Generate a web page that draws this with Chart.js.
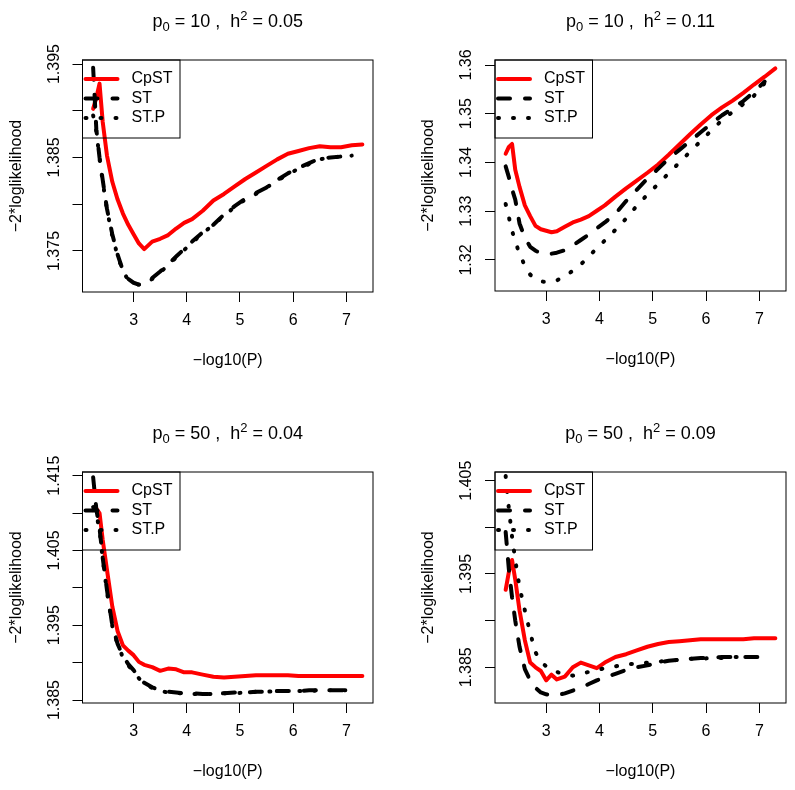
<!DOCTYPE html>
<html>
<head>
<meta charset="utf-8">
<script src="https://cdn.jsdelivr.net/npm/chart.js@4.4.0/dist/chart.umd.min.js"></script>
<style>
  html, body { margin: 0; padding: 0; background: #fff; }
  #wrap { position: relative; width: 795px; height: 790px; }
  #wrap canvas { position: absolute; }
</style>
</head>
<body>
<div id="wrap">
  <canvas id="c1" width="397" height="395" style="left:0px;top:0px"></canvas>
  <canvas id="c2" width="397" height="395" style="left:398px;top:0px"></canvas>
  <canvas id="c3" width="397" height="395" style="left:0px;top:395px"></canvas>
  <canvas id="c4" width="397" height="395" style="left:398px;top:395px"></canvas>
</div>
<script>
"use strict";
// -log10(P) grid shared by all panels
const logP = [2.24, 2.30, 2.36, 2.42, 2.5, 2.6, 2.7, 2.8, 2.9, 3.0, 3.1, 3.2, 3.35, 3.5, 3.65, 3.8, 3.95,
              4.1, 4.3, 4.5, 4.7, 4.9, 5.1, 5.3, 5.5, 5.7, 5.9, 6.1, 6.3, 6.5, 6.7, 6.9, 7.1, 7.3];

// p0 = 10, h2 = 0.05
const cpst1 = [1.3902, 1.3914, 1.3929, 1.3888, 1.3852, 1.3824, 1.3805, 1.3790, 1.3778, 1.3768, 1.3758, 1.3752, 1.3760, 1.3763, 1.3767, 1.3774, 1.3780,
               1.3784, 1.3793, 1.3804, 1.3811, 1.3819, 1.3827, 1.3834, 1.3841, 1.3848, 1.3854, 1.3857, 1.3860, 1.3862, 1.3861, 1.3861, 1.3863, 1.3864];
const st1 = [1.3946, 1.3880, 1.3850, 1.3826, 1.3795, 1.3768, 1.3746, 1.3729, 1.3720, 1.3716, 1.3714, 1.3715, 1.3721, 1.3728, 1.3736, 1.3744, 1.3752,
             1.3760, 1.3770, 1.3778, 1.3789, 1.3798, 1.3806, 1.3812, 1.3818, 1.3826, 1.3833, 1.3839, 1.3844, 1.3849, 1.3850, 1.3851, 1.3852, null];
const stp1 = [1.3895, 1.3878, 1.3849, 1.3824, 1.3794, 1.3766, 1.3745, 1.3728, 1.3719, 1.3715, 1.3714, 1.3715, 1.3720, 1.3727, 1.3735, 1.3743, 1.3751,
              1.3759, 1.3769, 1.3778, 1.3788, 1.3797, 1.3805, 1.3811, 1.3818, 1.3825, 1.3832, 1.3838, 1.3843, 1.3848, 1.3850, 1.3851, 1.3852, null];

// p0 = 10, h2 = 0.11
const cpst2 = [1.3418, 1.3432, 1.3438, 1.3385, 1.3350, 1.3312, 1.3290, 1.3270, 1.3263, 1.3260, 1.3257, 1.3259, 1.3268, 1.3277, 1.3283, 1.3290, 1.3301,
               1.3312, 1.3330, 1.3347, 1.3363, 1.3379, 1.3396, 1.3416, 1.3437, 1.3458, 1.3478, 1.3497, 1.3513, 1.3527, 1.3543, 1.3560, 1.3576, 1.3593];
const st2 = [1.3392, 1.3370, 1.3345, 1.3324, 1.3275, 1.3246, 1.3227, 1.3219, 1.3214, 1.3212, 1.3213, 1.3215, 1.3220, 1.3230, 1.3241, 1.3252, 1.3265,
             1.3277, 1.3295, 1.3321, 1.3344, 1.3367, 1.3387, 1.3408, 1.3426, 1.3444, 1.3462, 1.3480, 1.3497, 1.3511, 1.3526, 1.3545, 1.3566, null];
const stp2 = [1.3315, 1.3288, 1.3260, 1.3238, 1.3213, 1.3188, 1.3170, 1.3161, 1.3156, 1.3155, 1.3156, 1.3158, 1.3167, 1.3178, 1.3191, 1.3207, 1.3224,
              1.3240, 1.3262, 1.3285, 1.3311, 1.3334, 1.3356, 1.3378, 1.3400, 1.3422, 1.3444, 1.3466, 1.3487, 1.3504, 1.3520, 1.3537, 1.3563, null];

// p0 = 50, h2 = 0.04
const cpst3 = [1.4104, 1.4106, 1.4100, 1.4064, 1.4024, 1.3975, 1.3942, 1.3923, 1.3916, 1.3910, 1.3901, 1.3897, 1.3894, 1.3889, 1.3892, 1.3891, 1.3887,
               1.3887, 1.3884, 1.3881, 1.3880, 1.3881, 1.3882, 1.3883, 1.3883, 1.3883, 1.3883, 1.3882, 1.3882, 1.3882, 1.3882, 1.3882, 1.3882, 1.3882];
const st3 = [1.4148, 1.4105, 1.4080, 1.4040, 1.3997, 1.3950, 1.3925, 1.3909, 1.3898, 1.3890, 1.3880, 1.3873, 1.3867, 1.3863, 1.3861, 1.3860, 1.3859,
             1.3859, 1.3858, 1.3858, 1.3859, 1.3860, 1.3860, 1.3861, 1.3861, 1.3862, 1.3862, 1.3862, 1.3863, 1.3863, 1.3863, 1.3863, 1.3863, null];
const stp3 = [1.4108, 1.4098, 1.4078, 1.4038, 1.3995, 1.3949, 1.3924, 1.3907, 1.3896, 1.3888, 1.3879, 1.3872, 1.3866, 1.3862, 1.3860, 1.3859, 1.3859,
              1.3858, 1.3858, 1.3858, 1.3859, 1.3859, 1.3860, 1.3861, 1.3861, 1.3862, 1.3862, 1.3862, 1.3862, 1.3863, 1.3863, 1.3863, 1.3863, null];

// p0 = 50, h2 = 0.09
const cpst4 = [1.3933, 1.3952, 1.3965, 1.3944, 1.3911, 1.3879, 1.3855, 1.3850, 1.3846, 1.3836, 1.3842, 1.3837, 1.3840, 1.3850, 1.3855, 1.3852, 1.3849,
               1.3855, 1.3861, 1.3864, 1.3868, 1.3872, 1.3875, 1.3877, 1.3878, 1.3879, 1.3880, 1.3880, 1.3880, 1.3880, 1.3880, 1.3881, 1.3881, 1.3881];
const st4 = [1.3995, 1.3955, 1.3925, 1.3900, 1.3872, 1.3848, 1.3836, 1.3828, 1.3823, 1.3821, 1.3820, 1.3820, 1.3822, 1.3825, 1.3828, 1.3832, 1.3836,
             1.3839, 1.3843, 1.3847, 1.3850, 1.3852, 1.3855, 1.3857, 1.3858, 1.3859, 1.3860, 1.3860, 1.3861, 1.3861, 1.3861, 1.3861, 1.3861, null];
const stp4 = [1.4055, 1.4020, 1.3990, 1.3965, 1.3936, 1.3911, 1.3887, 1.3866, 1.3856, 1.3851, 1.3847, 1.3845, 1.3842, 1.3841, 1.3843, 1.3845, 1.3847,
              1.3849, 1.3851, 1.3853, 1.3854, 1.3855, 1.3856, 1.3857, 1.3858, 1.3859, 1.3859, 1.3860, 1.3860, 1.3861, 1.3861, 1.3861, 1.3861, null];

const seriesNames = ["CpST", "ST", "ST.P"];
const p0Values = ["10", "10", "50", "50"];
const h2Values = ["0.05", "0.11", "0.04", "0.09"];

const xTicks = [3, 4, 5, 6, 7];
const xRange = [2.04, 7.5];
const yTicks = [
    [1.375, 1.38, 1.385, 1.39, 1.395],
    [1.32, 1.33, 1.34, 1.35, 1.36],
    [1.385, 1.39, 1.395, 1.4, 1.405, 1.41, 1.415],
    [1.385, 1.39, 1.395, 1.4, 1.405]
];
const yLabels = [
    ["1.375", "1.385", "1.395"],
    ["1.32", "1.33", "1.34", "1.35", "1.36"],
    ["1.385", "1.395", "1.405", "1.415"],
    ["1.385", "1.395", "1.405"]
];
const yRanges = [[1.37061, 1.39543], [1.31364, 1.36103], [1.3846, 1.41549], [1.38117, 1.40593]];

const cpst = [cpst1, cpst2, cpst3, cpst4];
const st = [st1, st2, st3, st4];
const stp = [stp1, stp2, stp3, stp4];

// plot box of each panel, in its own canvas
const boxes = [
    {left: 82.5, right: 373, top: 60, bottom: 292},
    {left: 97, right: 388, top: 60, bottom: 291},
    {left: 82.5, right: 373, top: 77, bottom: 308},
    {left: 97, right: 388, top: 77, bottom: 308}
];

const FONT = "'Liberation Sans', Arial, Helvetica, sans-serif";

function pairs(values) {
    return logP.map((x, k) => ({x: x, y: values[k]}));
}

function drawTitle(ctx, cx, baseline, p0, h2) {
    const big = "18px " + FONT;
    const small = "13px " + FONT;
    const parts = [
        ["p", big, 0],
        ["0", small, 4],
        [" = " + p0 + " ,  h", big, 0],
        ["2", small, -7],
        [" = " + h2, big, 0]
    ];
    let total = 0;
    parts.forEach(p => { ctx.font = p[1]; total += ctx.measureText(p[0]).width; });
    let x = cx - total / 2;
    ctx.textAlign = "left";
    ctx.textBaseline = "alphabetic";
    parts.forEach(p => {
        ctx.font = p[1];
        ctx.fillText(p[0], x, baseline + p[2]);
        x += ctx.measureText(p[0]).width;
    });
}

const rPlot = {
    id: "rPlot",
    afterDatasetsDraw(chart, args, opts) {
        const ctx = chart.ctx;
        const a = chart.chartArea;
        ctx.save();
        ctx.fillStyle = "#000";
        ctx.strokeStyle = "#000";
        ctx.lineWidth = 1;
        ctx.setLineDash([]);
        ctx.strokeRect(a.left, a.top, a.right - a.left, a.bottom - a.top);

        // y tick labels, turned like R does
        const yScale = chart.scales.y;
        ctx.font = "16px " + FONT;
        ctx.textAlign = "center";
        ctx.textBaseline = "middle";
        opts.labels.forEach(lab => {
            const py = yScale.getPixelForValue(parseFloat(lab));
            ctx.save();
            ctx.translate(a.left - 28, py);
            ctx.rotate(-Math.PI / 2);
            ctx.fillText(lab, 0, 0);
            ctx.restore();
        });

        // axis titles
        ctx.fillText("\u2212log10(P)", (a.left + a.right) / 2, a.bottom + 69);
        ctx.save();
        ctx.translate(a.left - 66, (a.top + a.bottom) / 2);
        ctx.rotate(-Math.PI / 2);
        ctx.fillText("\u22122*loglikelihood", 0, 0);
        ctx.restore();

        drawTitle(ctx, (a.left + a.right) / 2, a.top - 33, opts.p0, opts.h2);

        // legend in the top left corner
        const lw = 97.5, lh = 78;
        ctx.strokeRect(a.left, a.top, lw, lh);
        chart.data.datasets.forEach((ds, k) => {
            const ry = a.top + 19 + k * 19.5;
            ctx.save();
            ctx.strokeStyle = ds.borderColor;
            ctx.lineWidth = ds.borderWidth;
            ctx.lineCap = "round";
            ctx.setLineDash(ds.borderDash || []);
            ctx.beginPath();
            ctx.moveTo(a.left + 3, ry);
            ctx.lineTo(a.left + 35, ry);
            ctx.stroke();
            ctx.restore();
            ctx.textAlign = "left";
            ctx.textBaseline = "middle";
            ctx.font = "16px " + FONT;
            ctx.fillText(ds.label, a.left + 49, ry);
        });
        ctx.restore();
    }
};

function makeChart(i) {
    const canvas = document.getElementById("c" + (i + 1));
    const W = canvas.width, H = canvas.height;
    const b = boxes[i];
    return new Chart(canvas, {
        type: "line",
        data: {
            datasets: [
                {label: seriesNames[0], data: pairs(cpst[i]), borderColor: "#ff0000", borderWidth: 4, order: 3},
                {label: seriesNames[1], data: pairs(st[i]), borderColor: "#000000", borderWidth: 4, borderDash: [12, 15], order: 2},
                {label: seriesNames[2], data: pairs(stp[i]), borderColor: "#000000", borderWidth: 4, borderDash: [1, 14], order: 1}
            ]
        },
        options: {
            responsive: false,
            animation: false,
            devicePixelRatio: 1,
            layout: {padding: {left: 0, top: b.top, right: W - b.right, bottom: 0}},
            elements: {
                point: {radius: 0},
                line: {tension: 0, borderCapStyle: "round", borderJoinStyle: "round", fill: false}
            },
            plugins: {
                legend: {display: false},
                tooltip: {enabled: false},
                rPlot: {labels: yLabels[i], p0: p0Values[i], h2: h2Values[i]}
            },
            scales: {
                x: {
                    type: "linear",
                    min: xRange[0],
                    max: xRange[1],
                    afterBuildTicks: ax => { ax.ticks = xTicks.map(v => ({value: v})); },
                    afterFit: ax => { ax.height = H - b.bottom; },
                    ticks: {color: "#000", font: {family: FONT, size: 16}, padding: 9, maxRotation: 0, autoSkip: false},
                    grid: {drawOnChartArea: false, tickLength: 10, color: "#000", lineWidth: 1},
                    border: {display: false}
                },
                y: {
                    type: "linear",
                    min: yRanges[i][0],
                    max: yRanges[i][1],
                    afterBuildTicks: ax => { ax.ticks = yTicks[i].map(v => ({value: v})); },
                    afterFit: ax => { ax.width = b.left; },
                    ticks: {display: false},
                    grid: {drawOnChartArea: false, tickLength: 10, color: "#000", lineWidth: 1},
                    border: {display: false}
                }
            }
        },
        plugins: [rPlot]
    });
}

for (let i = 0; i < 4; i++) makeChart(i);
</script>
</body>
</html>
